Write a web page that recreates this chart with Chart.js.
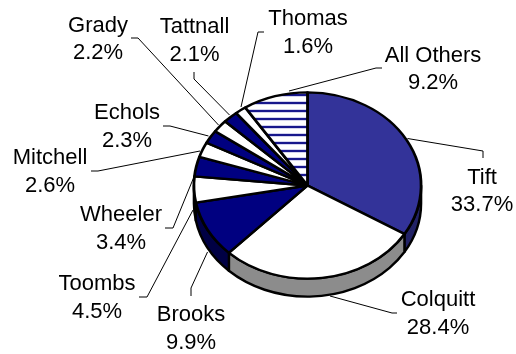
<!DOCTYPE html>
<html><head><meta charset="utf-8">
<style>html,body{margin:0;padding:0;background:#fff}canvas{display:block}</style>
<script src="https://cdn.jsdelivr.net/npm/chart.js@4"></script>
</head><body><canvas id="c" width="516" height="354" style="width:516px;height:354px"></canvas>
<script>
const categories = ["Tift","Colquitt","Brooks","Toombs","Wheeler","Mitchell","Echols","Grady","Tattnall","Thomas","All Others"];
const values = [33.7,28.4,9.9,4.5,3.4,2.6,2.3,2.2,2.1,1.6,9.2];
const tickLabels = ["33.7%","28.4%","9.9%","4.5%","3.4%","2.6%","2.3%","2.2%","2.1%","1.6%","9.2%"];

const TILT = 0.82, DEPTH = 18;
const sideColors = ["#222266","#8c8c8c","#000044","#ffffff","#000044","#ffffff","#000044","#ffffff","#000044","#ffffff","#ffffff"];
const labelAnchors = [[482,184,211],[438,306,334],[191,321,349],[97,290,318],[121,221,249],[50,164,192],[127,119,147],[98,32,59],[194.5,33,61],[308,25,53],[433,62,89]];
const leaders = [
 [[483,158],[483,151],[407.5,138.5]],
 [[397,313],[392,313],[330,296]],
 [[191,296],[191,288],[207.5,252]],
 [[139,297],[147,297],[193,210]],
 [[165,228],[173,228],[193.5,178]],
 [[91,171],[98,171],[200,151]],
 [[163,126],[170,126],[208.5,136]],
 [[131,38],[138,38],[218.5,125]],
 [[194,72],[194,79],[229.5,115]],
 [[264,32],[258,32],[241,107]],
 [[382,68],[376,68],[289,91]]
];

function stripes(ctx){
  const t=document.createElement('canvas');t.width=8;t.height=10;
  const g=t.getContext('2d');
  g.fillStyle='#fff';g.fillRect(0,0,8,10);
  g.fillStyle='#b9b9e3';g.fillRect(0,0,8,4);
  g.fillStyle='#000080';g.fillRect(0,1,8,2);
  const p=ctx.createPattern(t,'repeat');
  p.setTransform(new DOMMatrix().translate(0,4.89).scale(1,0.9756));
  return p;
}
const canvas=document.getElementById('c');
const ctx0=canvas.getContext('2d');
const sliceColors=["#333399","#ffffff","#000080","#ffffff","#000080","#ffffff","#000080","#ffffff","#000080","#ffffff",stripes(ctx0)];

const pie3d={
  id:'pie3d',
  beforeDatasetsDraw(chart){
    const ctx=chart.ctx, arcs=chart.getDatasetMeta(0).data;
    const {x:cx,y:cy,outerRadius:r}=arcs[0];
    const ry=r*TILT;
    ctx.save();
    ctx.lineWidth=2.4;ctx.strokeStyle='#000';ctx.lineJoin='round';
    arcs.forEach((a,i)=>{
      const s=a.startAngle,e=a.endAngle;
      const lo=Math.max(s,0),hi=Math.min(e,Math.PI);
      if(hi<=lo)return;
      ctx.beginPath();
      ctx.ellipse(cx,cy,r,ry,0,lo,hi);
      ctx.ellipse(cx,cy+DEPTH,r,ry,0,hi,lo,true);
      ctx.closePath();
      ctx.fillStyle=sideColors[i];ctx.fill();ctx.stroke();
    });
    ctx.restore();
    ctx.save();
    ctx.translate(cx,cy);ctx.scale(1,TILT);ctx.translate(-cx,-cy);
  },
  afterDatasetsDraw(chart){
    const ctx=chart.ctx;
    ctx.restore();
    ctx.save();
    ctx.strokeStyle='#000';ctx.lineWidth=1;
    leaders.forEach(l=>{
      ctx.beginPath();
      l.forEach((p,j)=>j?ctx.lineTo(p[0],p[1]):ctx.moveTo(p[0],p[1]));
      ctx.stroke();
    });
    ctx.fillStyle='#000';ctx.textAlign='center';ctx.textBaseline='alphabetic';
    ctx.font='22px "Liberation Sans", Arial, sans-serif';
    categories.forEach((c,i)=>{
      const a=labelAnchors[i];
      ctx.fillText(c,a[0],a[1]);
      ctx.fillText(tickLabels[i],a[0],a[2]);
    });
    ctx.restore();
  }
};

new Chart(canvas,{
  type:'pie',
  data:{labels:categories,datasets:[{data:values,backgroundColor:sliceColors,borderColor:'#000',borderWidth:2.8,borderJoinStyle:'round',hoverOffset:0}]},
  options:{
    responsive:false,animation:false,devicePixelRatio:1,
    layout:{padding:{left:192.5,right:93.5,top:70.5,bottom:53.5}},
    plugins:{legend:{display:false},tooltip:{enabled:false},title:{display:false}}
  },
  plugins:[pie3d]
});
</script></body></html>
